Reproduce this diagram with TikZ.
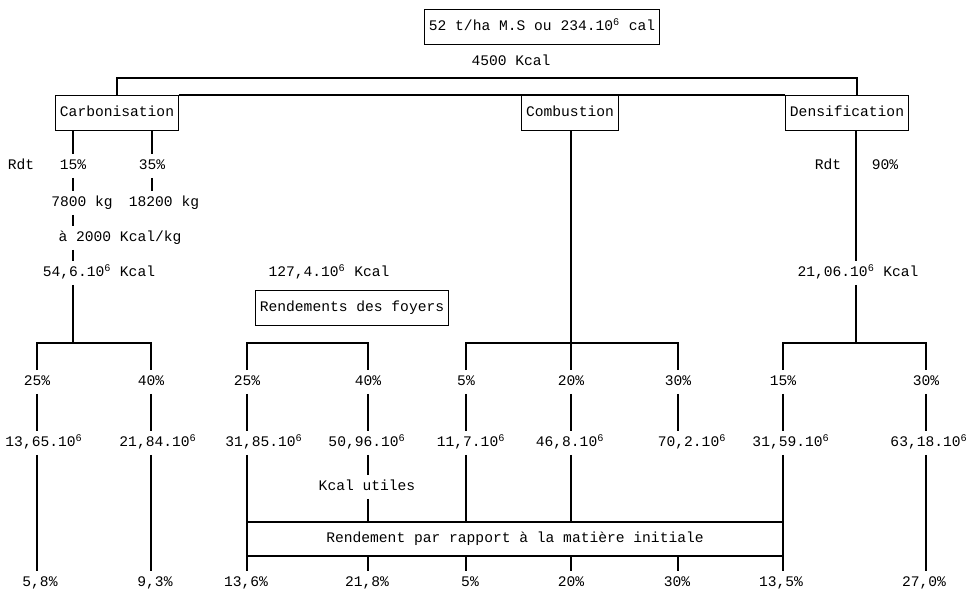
\documentclass[tikz,border=0pt]{standalone}
\usepackage{fontspec}
\setmonofont{Liberation Mono}
\tikzset{
  box/.style={draw, inner xsep=3pt, minimum height=0.875cm},
  wide/.style={draw, inner sep=0pt, minimum width=13.4cm, minimum height=0.85cm},
}
\newcommand{\dix}{.10\textsuperscript{6}}
\begin{document}
\begin{tikzpicture}[x=0.025cm, y=-0.025cm, line width=0.8pt,
  every node/.style={font=\ttfamily\fontsize{10.4}{12}\selectfont, text height=7.5pt, text depth=2pt}]
				\useasboundingbox (0,0) rectangle (973,600);
				% source et trois filieres
				\node[box] (src) at (542,27) {52 t/ha M.S ou 234\dix{} cal};
				\node (pci) at (511,62) {4500 Kcal};
				\node[box] (carbo) at (117,113) {Carbonisation};
				\node[box] (combu) at (570,113) {Combustion};
				\node[box] (densi) at (847,113) {Densification};
				\coordinate (tr) at (857,78);
				\draw (carbo.north) |- (tr) -- (tr |- densi.north);
				\draw (carbo.north east) -- (densi.north west);
				
				% carbonisation
				\node (rdt1) at (21,166) {Rdt};
				\node (c15) at (73,166) {15\%};
				\node (c35) at (152,166) {35\%};
				\node (kg1) at (82,203) {7800 kg};
				\node (kg2) at (164,203) {18200 kg};
				\node (pcs) at (120,238) {à 2000 Kcal/kg};
				\node (e1) at (99,273) {54,6\dix{} Kcal};
				\coordinate (b1) at (73,343);
				\draw (carbo.south -| c15) -- (c15.north);
				\draw (carbo.south -| c35) -- (c35.north);
				\draw (c15.south) -- (c15 |- kg1.north);
				\draw (c35.south) -- (c35 |- kg2.north);
				\draw (c15 |- kg1.south) -- (c15 |- pcs.north);
				\draw (c15 |- pcs.south) -- (c15 |- e1.north);
				\draw (c15 |- e1.south) -- (b1);
				
				% combustion
				\node (e2) at (329,273) {127,4\dix{} Kcal};
				\node[box] (foyers) at (352,308) {Rendements des foyers};
				\coordinate (b2) at (307,343);
				\coordinate (b3) at (571,343);
				\draw (combu.south -| b3) -- (b3);
				
				% densification
				\node (rdt2) at (828,166) {Rdt};
				\node (d90) at (885,166) {90\%};
				\node (e3) at (858,273) {21,06\dix{} Kcal};
				\coordinate (b4) at (856,343);
				\draw (densi.south -| b4) -- (e3.north -| b4);
				\draw (e3.south -| b4) -- (b4);
				
				% rendements des foyers
				\node (f1) at (37,382) {25\%};
				\node (f2) at (151,382) {40\%};
				\node (f3) at (247,382) {25\%};
				\node (f4) at (368,382) {40\%};
				\node (f5) at (466,382) {5\%};
				\node (f6) at (571,382) {20\%};
				\node (f7) at (678,382) {30\%};
				\node (f8) at (783,382) {15\%};
				\node (f9) at (926,382) {30\%};
				\draw (f1.north) |- (b1) -| (f2.north);
				\draw (f3.north) |- (b2) -| (f4.north);
				\draw (f5.north) |- (b3) -| (f7.north);
				\draw (b3) -- (f6.north);
				\draw (f8.north) |- (b4) -| (f9.north);
				
				% Kcal utiles
				\node (g1) at (44,443) {13,65\dix};
				\node (g2) at (158,443) {21,84\dix};
				\node (g3) at (264,443) {31,85\dix};
				\node (g4) at (367,443) {50,96\dix};
				\node (g5) at (471,443) {11,7\dix};
				\node (g6) at (570,443) {46,8\dix};
				\node (g7) at (692,443) {70,2\dix};
				\node (g8) at (791,443) {31,59\dix};
				\node (g9) at (929,443) {63,18\dix};
				\node (ku) at (367,487) {Kcal utiles};
				\draw (f1.south) -- (f1 |- g1.north);
				\draw (f2.south) -- (f2 |- g2.north);
				\draw (f3.south) -- (f3 |- g3.north);
				\draw (f4.south) -- (f4 |- g4.north);
				\draw (f5.south) -- (f5 |- g5.north);
				\draw (f6.south) -- (f6 |- g6.north);
				\draw (f7.south) -- (f7 |- g7.north);
				\draw (f8.south) -- (f8 |- g8.north);
				\draw (f9.south) -- (f9 |- g9.north);
				
				% rendement par rapport a la matiere initiale
				\node[wide] (rend) at (515,539) {Rendement par rapport à la matière initiale};
				\node (h1) at (40,583) {5,8\%};
				\node (h2) at (155,583) {9,3\%};
				\node (h3) at (246,583) {13,6\%};
				\node (h4) at (367,583) {21,8\%};
				\node (h5) at (470,583) {5\%};
				\node (h6) at (571,583) {20\%};
				\node (h7) at (677,583) {30\%};
				\node (h8) at (781,583) {13,5\%};
				\node (h9) at (924,583) {27,0\%};
				\draw (f1 |- g1.south) -- (f1 |- h1.north);
				\draw (f2 |- g2.south) -- (f2 |- h2.north);
				\draw (f3 |- g3.south) -- (f3 |- h3.north);
				\draw (f4 |- g4.south) -- (f4 |- ku.north);
				\draw (f4 |- ku.south) -- (f4 |- rend.north);
				\draw (f4 |- rend.south) -- (f4 |- h4.north);
				\draw (f5 |- g5.south) -- (f5 |- rend.north);
				\draw (f5 |- rend.south) -- (f5 |- h5.north);
				\draw (f6 |- g6.south) -- (f6 |- rend.north);
				\draw (f6 |- rend.south) -- (f6 |- h6.north);
				\draw (f7 |- rend.south) -- (f7 |- h7.north);
				\draw (f8 |- g8.south) -- (f8 |- h8.north);
				\draw (f9 |- g9.south) -- (f9 |- h9.north);
			\end{tikzpicture}
\end{document}
